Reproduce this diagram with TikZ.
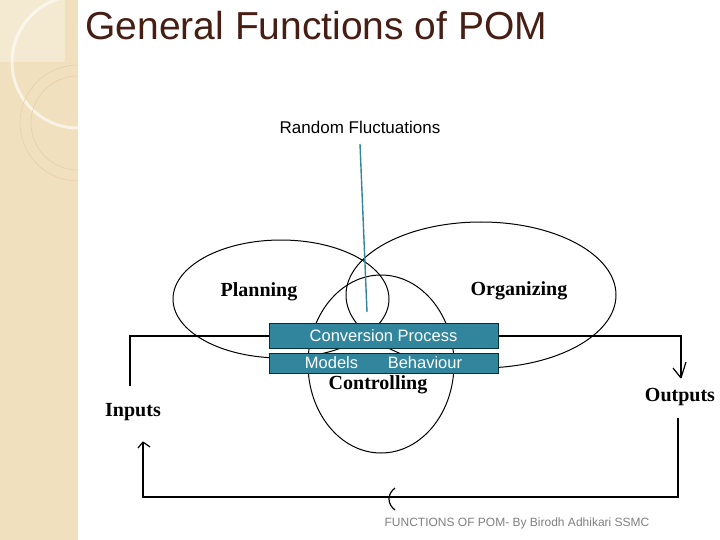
\documentclass[tikz,border=0pt]{standalone}
\usepackage{fontspec}
\setmainfont{Liberation Serif}
\newfontfamily\sans{Liberation Sans}
\definecolor{beige}{RGB}{240,224,190}
\definecolor{teal1}{RGB}{49,133,156}
\definecolor{titlec}{RGB}{70,30,20}
\begin{document}
\begin{tikzpicture}[x=1pt,y=-1pt,
  ell/.style={draw=black,line width=1pt},
  lbl/.style={font=\bfseries\fontsize{20}{22}\selectfont},
  tbox/.style={draw=teal!40!black,line width=1pt,fill=teal1,text=white,font=\sans\fontsize{16.5}{18}\selectfont,minimum width=229pt,inner sep=0pt},
  conn/.style={line width=1.2pt}]
\useasboundingbox (0,0) rectangle (720,540);
\fill[white] (0,0) rectangle (720,540);
\fill[beige] (0,0) rectangle (78,540);
\begin{scope}
\clip (0,0) rectangle (78,540);
\draw[white!60!beige,line width=3pt] (78,62) circle (66);
\draw[beige!80!brown,line width=0.5pt] (78,123) circle (58);
\draw[beige!80!brown,line width=0.5pt] (78,123) circle (47);
\fill[white,opacity=0.3] (0,0) rectangle (65,62);
\end{scope}
\node[anchor=west,text=titlec,font=\sans\fontsize{39}{42}\selectfont] (title) at (82,26) {General Functions of POM};
\node[font=\sans\fontsize{17}{19}\selectfont] (rf) at (360,127) {Random Fluctuations};
\draw[ell] (281,299) ellipse (108 and 59);
\draw[ell] (481,295) ellipse (135 and 73);
\draw[ell] (381,364) ellipse (73 and 89);
\node[lbl] (pl) at (259,292) {Planning};
\node[lbl] (org) at (519,291) {Organizing};
\node[lbl] (ctl) at (378,385) {Controlling};
\coordinate (rfe) at (367,312);
\draw[teal1,line width=1.4pt] (360,144) -- (rfe);
\node[tbox,minimum height=25pt] (cp) at (383.5,336) {Conversion Process};
\node[tbox,minimum height=20pt] (mb) at (383.5,363) {Models\hspace{1.8em}Behaviour};
\node[lbl] (in) at (133,412) {Inputs};
\node[lbl] (out) at (680,397) {Outputs};
\coordinate (a1) at (130,336); \coordinate (a2) at (130,386);
\draw[conn] (cp.west) -- (a1) -- (a2);
\coordinate (b1) at (681,336); \coordinate (b2) at (681,378);
\draw[conn] (cp.east) -- (b1) -- (b2);
\draw[conn] (b2) -- ++(-8,-10) (b2) -- ++(5,-16);
\coordinate (c1) at (678,418); \coordinate (c2) at (678,497);
\coordinate (c3) at (143,497); \coordinate (c4) at (143,442);
\draw[conn] (c1) -- (c2) -- (c3) -- (c4);
\draw[conn] (c4) -- ++(-5,6) (c4) -- ++(7,5);
\draw[conn] (395,488) .. controls (387,494) and (387,504) .. (395,510);
\node[text=gray,font=\sans\fontsize{12}{13}\selectfont] (ft) at (517,523) {FUNCTIONS OF POM- By Birodh Adhikari SSMC};
\end{tikzpicture}
\end{document}
